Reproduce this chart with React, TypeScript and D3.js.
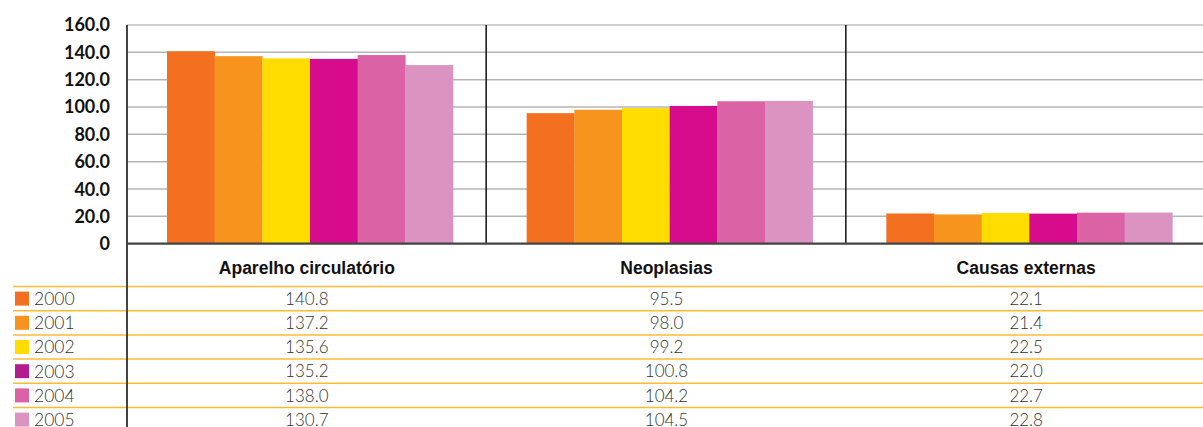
import React from "react";
import * as d3 from "d3";

const categories = ["Aparelho circulatório", "Neoplasias", "Causas externas"];
const years = ["2000", "2001", "2002", "2003", "2004", "2005"];
const values2000 = [140.8, 95.5, 22.1];
const values2001 = [137.2, 98.0, 21.4];
const values2002 = [135.6, 99.2, 22.5];
const values2003 = [135.2, 100.8, 22.0];
const values2004 = [138.0, 104.2, 22.7];
const values2005 = [130.7, 104.5, 22.8];
const seriesValues = [values2000, values2001, values2002, values2003, values2004, values2005];
const barColors = ["#F37021", "#F7941D", "#FFDD00", "#D60C8C", "#DA62A5", "#DB94C1"];
const legendColors = ["#F37021", "#F7941D", "#FFDD00", "#B31B8E", "#DA62A5", "#DB94C1"];
const yTicks = [0, 20, 40, 60, 80, 100, 120, 140, 160];

const W = 1203;
const H = 427;
const left = 127;
const right = 1206;
const top = 25;
const base = 243.7;
const rowTop = 286.5;
const rowH = 24.2;

export default function App() {
  const y = d3.scaleLinear().domain([0, 160]).range([base, top]);
  const x0 = d3.scaleBand<string>().domain(categories).range([left, right]).paddingInner(0).paddingOuter(0);
  const x1 = d3.scaleBand<string>().domain(years).range([40, 326]).padding(0);
  const fmt = (v: number) => (v === 0 ? "0" : d3.format(".1f")(v));

  return (
    <svg width={W} height={H} style={{ position: "absolute", left: 0, top: 0, background: "#fff" }}>
      {/* gridlines */}
      {yTicks.filter((t) => t > 0).map((t) => (
        <line key={t} x1={left} x2={W} y1={y(t)} y2={y(t)}
          stroke={t === 160 ? "#cfcfcf" : "#b5b5b5"} strokeWidth={t === 160 ? 2 : 1.5} />
      ))}
      {/* bars */}
      {categories.map((c, ci) => (
        <g key={c} transform={`translate(${x0(c)},0)`}>
          {years.map((yr, si) => {
            const v = seriesValues[si][ci];
            return (
              <rect key={yr} x={x1(yr)} y={y(v)} width={x1.bandwidth() + 0.3} height={base - y(v)} fill={barColors[si]} />
            );
          })}
        </g>
      ))}
      {/* separators */}
      {categories.slice(1).map((c) => (
        <line key={c} x1={(x0(c) as number) - 0.5} x2={(x0(c) as number) - 0.5} y1={top} y2={base} stroke="#111" strokeWidth={1.5} />
      ))}
      {/* baseline */}
      <line x1={left} x2={W} y1={base} y2={base} stroke="#444" strokeWidth={2.2} />
      {/* tick labels */}
      {yTicks.map((t) => (
        <text key={t} x={110} y={y(t)} dy="0.36em" textAnchor="end"
          fontFamily="Lato, 'Open Sans', sans-serif" fontWeight={700} fontSize={18} fill="#111">
          {fmt(t)}
        </text>
      ))}
      {/* category labels */}
      {categories.map((c) => (
        <text key={c} x={(x0(c) as number) + x0.bandwidth() / 2} y={268} dy="0.35em" textAnchor="middle"
          fontFamily="'Liberation Sans', Arial, sans-serif" fontWeight={700} fontSize={17.5} fill="#111">
          {c}
        </text>
      ))}
      {/* table rows */}
      {years.map((yr, si) => {
        const ly = rowTop + si * rowH;
        const cy = ly + rowH / 2;
        return (
          <g key={yr}>
            <line x1={13} x2={W} y1={ly} y2={ly} stroke="#FDBB30" strokeWidth={1.5} />
            <rect x={15} y={cy - 7} width={14} height={14} fill={legendColors[si]} />
            <text x={34} y={cy} dy="0.36em" fontFamily="Lato, 'Open Sans', sans-serif" fontWeight={300} fontSize={17.5} fill="#333">
              {yr}
            </text>
            {categories.map((c, ci) => (
              <text key={c} x={(x0(c) as number) + x0.bandwidth() / 2} y={cy} dy="0.36em" textAnchor="middle"
                fontFamily="Lato, 'Open Sans', sans-serif" fontWeight={300} fontSize={17} fill="#333">
                {d3.format(".1f")(seriesValues[si][ci])}
              </text>
            ))}
          </g>
        );
      })}
      {/* y axis line */}
      <line x1={left} x2={left} y1={top} y2={H} stroke="#444" strokeWidth={2} />
    </svg>
  );
}
